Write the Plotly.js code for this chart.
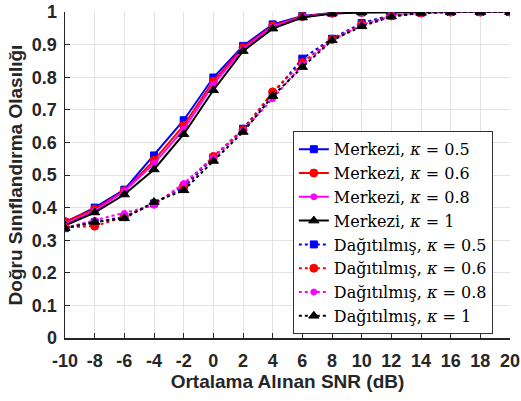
<!DOCTYPE html>
<html>
<head>
<meta charset="utf-8">
<script src="https://cdn.plot.ly/plotly-3.0.1.min.js"></script>
<style>html,body{margin:0;padding:0;background:#fff;}#chart{width:521px;height:401px;}</style>
</head>
<body>
<div id="chart"></div>
<script>
const snr = [-10, -8, -6, -4, -2, 0, 2, 4, 6, 8, 10, 12, 14, 16, 18, 20];

const merkezi05 = [0.355, 0.400, 0.455, 0.560, 0.668, 0.799, 0.896, 0.962, 0.988, 0.997, 0.999, 1, 1, 1, 1, 1];
const merkezi06 = [0.357, 0.395, 0.452, 0.545, 0.652, 0.788, 0.891, 0.958, 0.986, 0.996, 0.999, 1, 1, 1, 1, 1];
const merkezi08 = [0.350, 0.390, 0.450, 0.535, 0.640, 0.778, 0.886, 0.955, 0.985, 0.996, 0.999, 1, 1, 1, 1, 1];
const merkezi1  = [0.345, 0.385, 0.440, 0.517, 0.625, 0.760, 0.880, 0.949, 0.983, 0.995, 0.999, 1, 1, 1, 1, 1];

const dagitik05 = [0.337, 0.355, 0.372, 0.413, 0.462, 0.552, 0.642, 0.748, 0.857, 0.918, 0.966, 0.990, 0.998, 1, 1, 1];
const dagitik06 = [0.340, 0.343, 0.372, 0.412, 0.468, 0.557, 0.638, 0.755, 0.845, 0.916, 0.962, 0.988, 0.997, 1, 1, 1];
const dagitik08 = [0.338, 0.361, 0.382, 0.407, 0.474, 0.553, 0.636, 0.734, 0.838, 0.914, 0.960, 0.988, 0.997, 1, 1, 1];
const dagitik1  = [0.337, 0.356, 0.367, 0.417, 0.453, 0.543, 0.632, 0.742, 0.831, 0.913, 0.956, 0.986, 0.997, 1, 1, 1];

const labels = [
  'Merkezi, <i>κ</i> = 0.5', 'Merkezi, <i>κ</i> = 0.6', 'Merkezi, <i>κ</i> = 0.8', 'Merkezi, <i>κ</i> = 1',
  'Dağıtılmış, <i>κ</i> = 0.5', 'Dağıtılmış, <i>κ</i> = 0.6', 'Dağıtılmış, <i>κ</i> = 0.8', 'Dağıtılmış, <i>κ</i> = 1'
];
const yTickVals = [0, 0.1, 0.2, 0.3, 0.4, 0.5, 0.6, 0.7, 0.8, 0.9, 1];
const yTickText = ['0', '0.1', '0.2', '0.3', '0.4', '0.5', '0.6', '0.7', '0.8', '0.9', '1'];

const series = [merkezi05, merkezi06, merkezi08, merkezi1, dagitik05, dagitik06, dagitik08, dagitik1];
const colors = ['#0000ff', '#ff0000', '#ff00ff', '#000000', '#0000ff', '#ff0000', '#ff00ff', '#000000'];
const symbols = ['square', 'circle', 'circle', 'triangle-up', 'square', 'circle', 'circle', 'triangle-up'];
const sizes = [7, 8, 6, 9, 7, 8, 6, 9];

const traces = series.map((vals, i) => ({
  x: snr, y: vals, name: labels[i], type: 'scatter', mode: 'lines+markers',
  line: {color: colors[i], width: 2, dash: i < 4 ? 'solid' : 'dot'},
  marker: {color: colors[i], symbol: symbols[i], size: sizes[i], line: {color: colors[i], width: 1}}
}));

const sans = 'Liberation Sans, Arial, Helvetica, sans-serif';
const tickFont = {family: sans, size: 18, color: '#262626', weight: 'bold'};
const titleFont = {family: sans, size: 19, color: '#262626', weight: 'bold'};
const layout = {
  width: 521, height: 401,
  margin: {l: 65, r: 11, t: 12, b: 63},
  paper_bgcolor: '#fff', plot_bgcolor: '#fff',
  showlegend: true,
  xaxis: {
    range: [-10, 20], tickmode: 'array', tickvals: snr, ticktext: snr.map(String),
    showgrid: true, gridcolor: '#e3e3e3', gridwidth: 1,
    showline: true, linecolor: '#262626', linewidth: 1.5,
    ticks: 'inside', ticklen: 5, tickcolor: '#262626', zeroline: false,
    tickfont: tickFont, ticklabelstandoff: 6,
    title: {text: 'Ortalama Alınan SNR (dB)', font: titleFont, standoff: 4}
  },
  yaxis: {
    range: [0, 1], tickmode: 'array', tickvals: yTickVals, ticktext: yTickText,
    showgrid: true, gridcolor: '#e3e3e3', gridwidth: 1,
    showline: true, linecolor: '#262626', linewidth: 1.5,
    ticks: 'inside', ticklen: 5, tickcolor: '#262626', zeroline: false,
    tickfont: tickFont, ticklabelstandoff: 3,
    title: {text: 'Doğru Sınıflandırma Olasılığı', font: titleFont, standoff: 4}
  },
  legend: {
    x: 0.512, y: 0.634, xanchor: 'left', yanchor: 'top',
    bgcolor: '#ffffff', bordercolor: '#333333', borderwidth: 1,
    font: {family: 'DejaVu Serif, Liberation Serif, serif', size: 16, color: '#000'},
    tracegroupgap: 0
  }
};

Plotly.newPlot('chart', traces, layout, {displayModeBar: false, staticPlot: true});
</script>
</body>
</html>
